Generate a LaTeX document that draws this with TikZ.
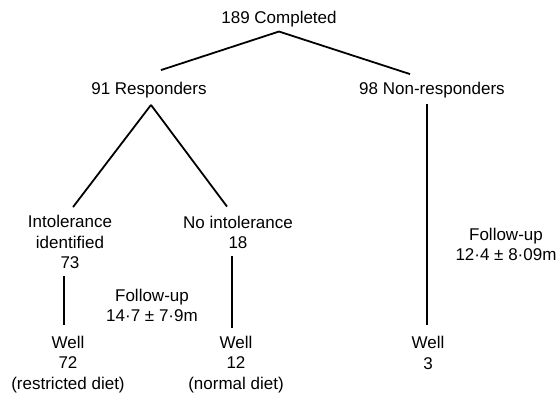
\documentclass[tikz,border=0pt]{standalone}
\usepackage{fontspec}
\setmainfont{Liberation Sans}
\usetikzlibrary{positioning}
\def\rowsep{20.5}

\begin{document}
\begin{tikzpicture}[x=1pt,y=1pt]
    \tikzstyle{stage}=[inner sep=4pt, outer sep=0pt, align=center, anchor=base, font=\fontsize{17}{\rowsep}\selectfont]
    \tikzstyle{link}=[draw=black, line width=1.8pt]
    \useasboundingbox (0,0) rectangle (560,394);

    % Draw the first two levels
    \node[stage] (comp) at (279,370) {189 Completed};
    \node[stage] (resp) at (149,299) {91 Responders};
    \node[stage] (nonresp) at (432,299) {98 Non-responders};

    % Draw the responder branches (base = last line)
    \node[stage] (intol) at (70,125) {Intolerance\\identified\\73};
    \node[stage] (nointol) at (238,145) {No intolerance\\18};

    % Draw the outcome nodes
    \node[stage] (well1) at (68,5) {Well\\72\\(restricted diet)};
    \node[stage] (well2) at (236,5) {Well\\12\\(normal diet)};
    \node[stage] (well3) at (428,25) {Well\\3};

    % Follow-up notes
    \node[stage] (fu1) at (152,72) {Follow-up\\14·7 ± 7·9m};
    \node[stage] (fu2) at (506,133) {Follow-up\\12·4 ± 8·09m};

    \draw[link] (comp.south) -- ([xshift=12pt,yshift=8.6pt]resp.north);
    \draw[link] (comp.south) -- ([xshift=-22pt,yshift=4.6pt]nonresp.north);
    \draw[link] ([xshift=2pt,yshift=-2.4pt]resp.south) -- ([xshift=3pt,yshift=4.6pt]intol.north);
    \draw[link] ([xshift=2pt,yshift=-2.4pt]resp.south) -- ([xshift=-11pt,yshift=5.6pt]nointol.north);
    \draw[link] ([xshift=-6pt,yshift=-3pt]intol.south) -- ([xshift=-4pt,yshift=6.6pt]well1.north);
    \draw[link] ([xshift=-6pt,yshift=-3pt]nointol.south) -- ([xshift=-4pt,yshift=3.6pt]well2.north);
    \draw[link] ([xshift=-5pt,yshift=-1.4pt]nonresp.south) -- ([xshift=-1pt,yshift=7.6pt]well3.north);
\end{tikzpicture}
\end{document}
